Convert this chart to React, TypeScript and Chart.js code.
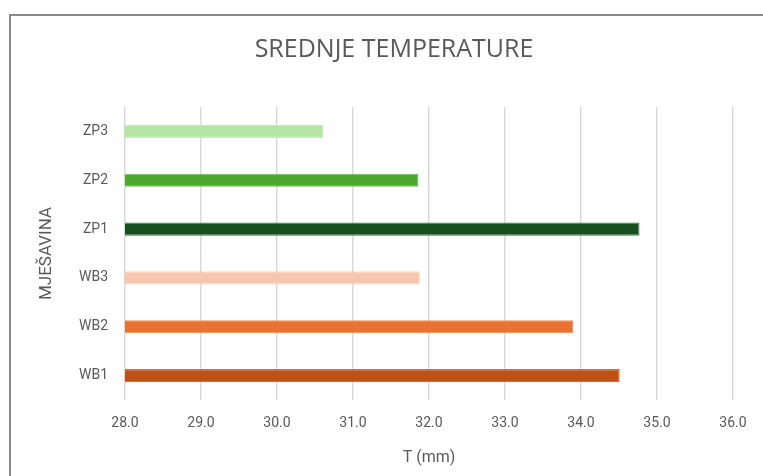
import React, { useEffect, useRef } from "react";
import { Chart, registerables } from "chart.js";

Chart.register(...registerables);

const categories = ["WB1", "WB2", "WB3", "ZP1", "ZP2", "ZP3"];
const values = [34.51, 33.9, 31.88, 34.77, 31.86, 30.61];
const tickMin = 28;
const tickMax = 36;
const tickStep = 1;

const chartTitle = "SREDNJE TEMPERATURE";
const xTitle = "T (mm)";
const yTitle = "MJEŠAVINA";

const barColors = ["#C04F15", "#E97132", "#F6C6AD", "#16501F", "#4EA72E", "#B4E5A2"];
const barBorders = ["#F2651F", "#F08A55", "#F9D5C2", "#4C7B52", "#74BC58", "#C4EBB5"];

const TEXT = "#595959";
const FONT = "Roboto, 'Liberation Sans', sans-serif";
const TITLE_FONT = "'Open Sans', Roboto, sans-serif";

export default function App() {
  const ref = useRef<HTMLCanvasElement | null>(null);

  useEffect(() => {
    if (!ref.current) return;
    const chart = new Chart(ref.current, {
      type: "bar",
      data: {
        labels: categories,
        datasets: [
          {
            data: values,
            backgroundColor: barColors,
            borderColor: barBorders,
            borderWidth: 1.2,
            barPercentage: 0.27,
            categoryPercentage: 1,
          },
        ],
      },
      options: {
        indexAxis: "y",
        animation: false,
        responsive: false,
        maintainAspectRatio: false,
        layout: { padding: { left: 55, right: 30, top: 0, bottom: 0 } },
        plugins: {
          legend: { display: false },
          tooltip: { enabled: false },
          title: {
            display: true,
            text: chartTitle,
            color: TEXT,
            font: { family: TITLE_FONT, size: 25, weight: "normal" },
            padding: { top: 35, bottom: 42 },
          },
        },
        scales: {
          x: {
            type: "linear",
            min: tickMin,
            max: tickMax,
            border: { display: false },
            grid: { color: "#d9d9d9", lineWidth: 1.5, drawTicks: false },
            ticks: {
              stepSize: tickStep,
              padding: 15,
              color: TEXT,
              font: { family: FONT, size: 14 },
              callback: (v: any) => Number(v).toFixed(1),
            },
            title: {
              display: true,
              text: xTitle,
              color: TEXT,
              font: { family: FONT, size: 16 },
              padding: { top: 0, bottom: 8 },
            },
            afterFit: (s: any) => {
              s.height = 76;
            },
          },
          y: {
            reverse: true,
            border: { display: false },
            grid: { display: false, drawTicks: false },
            ticks: {
              padding: 17,
              color: TEXT,
              font: { family: FONT, size: 14 },
            },
            title: {
              display: true,
              text: yTitle,
              color: TEXT,
              font: { family: FONT, size: 17 },
              padding: { top: -18.2, bottom: 0 },
            },
            afterFit: (s: any) => {
              s.width = 70;
            },
          },
        },
      },
    });
    return () => chart.destroy();
  }, []);

  return (
    <div
      style={{
        position: "fixed",
        left: 0,
        top: 0,
        width: 763,
        height: 476,
        overflow: "hidden",
        background: "#ffffff",
      }}
    >
      <div
        style={{
          position: "absolute",
          left: 9,
          top: 14,
          width: 820,
          height: 520,
          border: "2px solid #8a8a8a",
          boxSizing: "border-box",
        }}
      />
      <canvas
        ref={ref}
        width={763}
        height={476}
        style={{ position: "absolute", left: 0, top: 0, width: 763, height: 476 }}
      />
    </div>
  );
}
